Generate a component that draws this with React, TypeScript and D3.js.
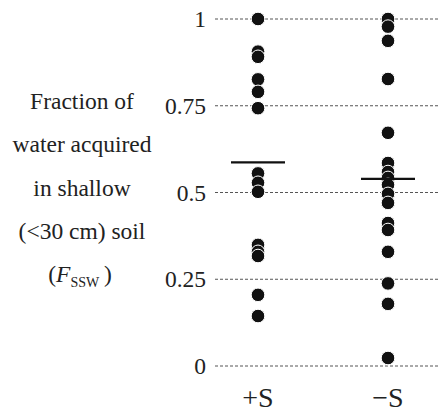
import React from 'react';
import * as d3 from 'd3';

const groups = ['+S', '\u2212S'];
const plusS = [1.0, 0.906, 0.891, 0.826, 0.79, 0.743, 0.555, 0.528, 0.502, 0.349, 0.329, 0.317, 0.205, 0.144];
const minusS = [1.0, 0.978, 0.937, 0.827, 0.672, 0.585, 0.559, 0.542, 0.522, 0.496, 0.47, 0.412, 0.392, 0.329, 0.238, 0.179, 0.023];
const means = [0.587, 0.539];
const yTicks = [0, 0.25, 0.5, 0.75, 1];
const labelLines = ['Fraction of', 'water acquired', 'in shallow', '(<30 cm) soil'];

const font = "'Liberation Serif', 'Times New Roman', serif";

export default function App() {
    const width = 438;
    const height = 412;
    const margin = {t: 19, b: 46, l: 215, r: 0};

    const x = d3.scalePoint()
        .domain(groups)
        .range([258, 388]);

    const y = d3.scaleLinear()
        .domain([0, 1])
        .range([height - margin.b, margin.t]);

    const series = [plusS, minusS];

    // gridlines + tick labels
    const grid = yTicks.map(d =>
        <g key={d} transform={`translate(0,${y(d)})`}>
            <line x1={margin.l} x2={width - margin.r} y1={0} y2={0}
                stroke="#555" strokeWidth={1} strokeDasharray="3,2"/>
            <text x={206} y={8} textAnchor="end" fontSize={23.5} fill="#222">{d3.format('')(d)}</text>
        </g>
    );

    const dots = series.map((vals, i) =>
        <g key={groups[i]}>
            {vals.map((v, j) =>
                <circle key={j} cx={x(groups[i])} cy={y(v)} r={6.8}
                    fill="#111" stroke="#fff" strokeWidth={1}/>
            )}
        </g>
    );

    const meanLines = means.map((m, i) =>
        <line key={i} x1={x(groups[i])! - 27} x2={x(groups[i])! + 27} y1={y(m)} y2={y(m)}
            stroke="#111" strokeWidth={2.2}/>
    );

    return (
        <svg width={width} height={height} style={{position: 'absolute', left: 0, top: 0, fontFamily: font}}>
            <rect width={width} height={height} fill="#fff"/>
            <g>{grid}</g>
            <g>{dots}</g>
            <g>{meanLines}</g>
            <g fontSize={28} fill="#222">
                {groups.map(g =>
                    <text key={g} x={x(g)} y={407} textAnchor="middle">{g}</text>
                )}
            </g>
            <g fontSize={23.5} fill="#222" textAnchor="middle">
                {labelLines.map((l, i) =>
                    <text key={i} x={82} y={109 + i * 43.3}>{l}</text>
                )}
                <text x={80} y={109 + 4 * 43.3}>
                    <tspan>(</tspan>
                    <tspan fontStyle="italic">F</tspan>
                    <tspan fontSize={14} dy={5}>SSW</tspan>
                    <tspan dy={-5}>{'\u2009)'}</tspan>
                </text>
            </g>
        </svg>
    );
}
